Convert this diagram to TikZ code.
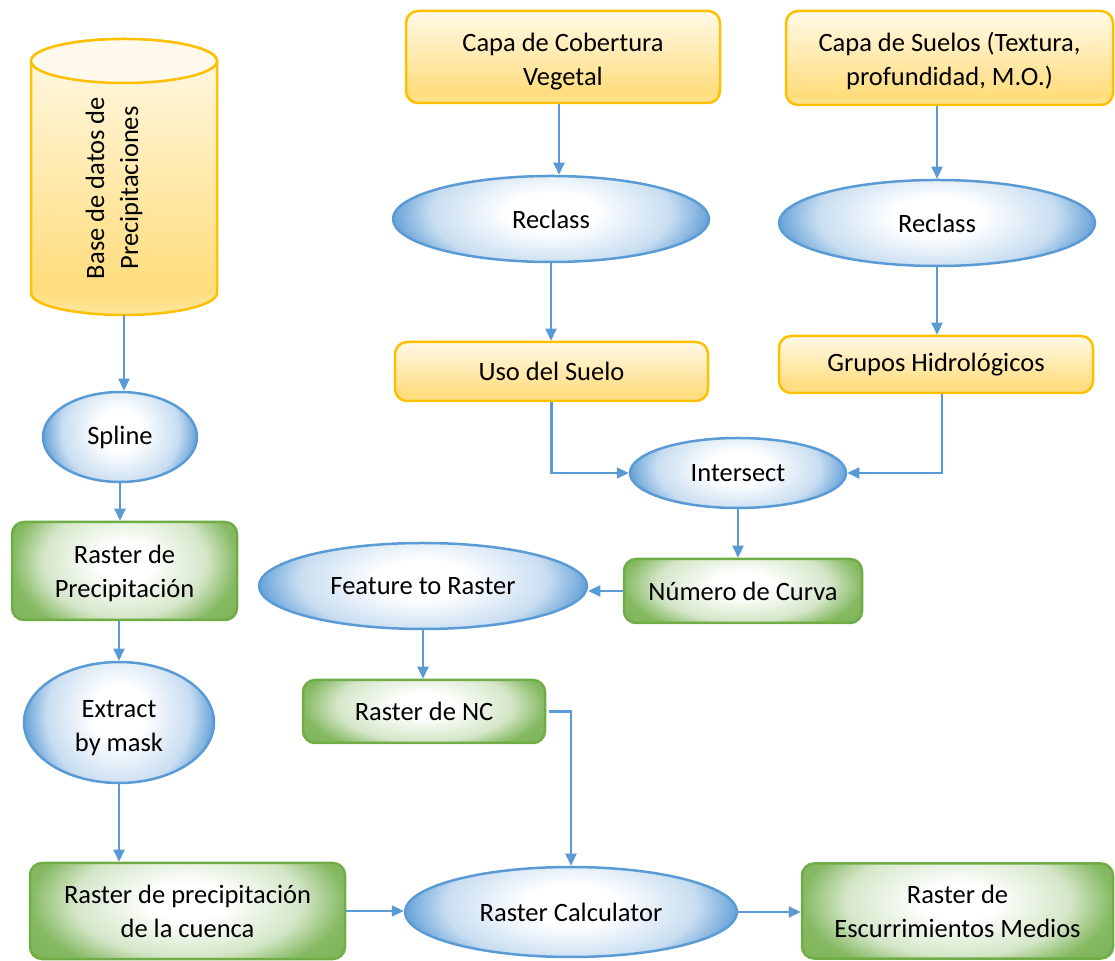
\documentclass[tikz,border=0pt]{standalone}
\usepackage{fontspec}
\setmainfont{Carlito}
\usetikzlibrary{shapes.geometric, arrows.meta, calc}
\definecolor{gold}{RGB}{255,192,0}
\definecolor{ellblue}{RGB}{91,155,213}
\definecolor{grn}{RGB}{112,173,71}
\definecolor{yelT}{RGB}{255,249,232}
\definecolor{yelB}{RGB}{255,221,125}
\definecolor{yelB2}{RGB}{255,230,155}
\definecolor{cyltop}{RGB}{255,250,236}
\pgfdeclareverticalshading{yelsh}{100bp}{color(0bp)=(yelB2); color(25bp)=(yelB2); color(30bp)=(yelB); color(75bp)=(yelT); color(100bp)=(yelT)}
\pgfdeclareradialshading{bluesh}{\pgfpoint{0bp}{0bp}}{color(0bp)=(white); color(7bp)=(white); color(19bp)=(ellblue!34); color(25bp)=(ellblue!92); color(40bp)=(ellblue)}
\pgfdeclareradialshading{grnsh}{\pgfpoint{0bp}{0bp}}{color(0bp)=(white); color(6bp)=(white); color(18bp)=(grn!30); color(25bp)=(grn!85); color(40bp)=(grn)}
\newcommand\nodefont{\fontsize{26.5pt}{34pt}\selectfont}
\newcommand\lowtext[2]{\raisebox{#1}[\height][\depth]{\begin{tabular}{@{}c@{}}#2\end{tabular}}}
\tikzset{
  base/.style={align=center, inner sep=0pt, font=\nodefont, text=black},
  yelbox/.style={base, rectangle, rounded corners=12pt, draw=gold, line width=2.5pt, shade, shading=yelsh},
  ellnode/.style={base, ellipse, draw=ellblue, line width=2.5pt,
    path picture={\shade[shading=bluesh] ($(path picture bounding box.south west)!-0.25!(path picture bounding box.north west)$) rectangle ($(path picture bounding box.north east)!-0.4!(path picture bounding box.south east)$);}},
  grnbox/.style={base, rectangle, rounded corners=12pt, draw=grn, line width=2.5pt,
    path picture={\shade[shading=grnsh] ($(path picture bounding box.south west)!-0.2!(path picture bounding box.north west)$) rectangle ($(path picture bounding box.north east)!-0.4!(path picture bounding box.south east)$);}},
  arr/.style={draw=ellblue, line width=2.2pt, -{Triangle[length=12pt,width=11pt]}}
}
\begin{document}
\begin{tikzpicture}[x=1pt,y=1pt]
\useasboundingbox (0,0) rectangle (1115,960);
% cylinder
\path[shade, shading=yelsh, draw=gold, line width=2.5pt] (31,899) -- (31,667) arc[start angle=180,end angle=360,x radius=93pt,y radius=22pt] -- (217,899) arc[start angle=0,end angle=180,x radius=93pt,y radius=22pt] -- cycle;
\draw[gold, line width=2.5pt, fill=cyltop] (124,899) ellipse [x radius=93pt, y radius=22pt];
\node[base, rotate=90] (cyltxt) at (114,772) {Base de datos de\\Precipitaciones};
\coordinate (cylb) at (124,645);
% top row
\node[yelbox, minimum width=314pt, minimum height=92pt] (cob) at (563,903) {\lowtext{-5pt}{Capa de Cobertura\\Vegetal}};
\node[yelbox, minimum width=327pt, minimum height=94pt] (suelos) at (949.5,902) {\lowtext{-4pt}{Capa de Suelos (Textura,\\profundidad, M.O.)}};
\node[ellnode, minimum width=316pt, minimum height=86pt] (rec1) at (551,741) {Reclass};
\node[ellnode, minimum width=316pt, minimum height=86pt] (rec2) at (937,737) {Reclass};
\node[yelbox, minimum width=313pt, minimum height=59pt] (uso) at (551.5,588.5) {Uso del Suelo};
\node[yelbox, minimum width=314pt, minimum height=57pt] (grupos) at (936,595.5) {Grupos Hidrológicos};
\node[ellnode, minimum width=216pt, minimum height=70pt] (inter) at (738,487) {Intersect};
\node[grnbox, minimum width=238pt, minimum height=64pt] (numero) at (743,369) {Número de Curva};
\node[ellnode, minimum width=328pt, minimum height=86pt] (feat) at (423,374) {Feature to Raster};
\node[grnbox, minimum width=242pt, minimum height=63pt] (nc) at (424,248.5) {Raster de NC};
\node[ellnode, minimum width=332pt, minimum height=90pt] (calc) at (571,48) {Raster Calculator};
% left column
\node[ellnode, minimum width=154pt, minimum height=90pt] (spline) at (120,523) {Spline};
\node[grnbox, minimum width=225pt, minimum height=98pt] (precip) at (124.5,389) {\lowtext{-3pt}{Raster de\\Precipitación}};
\node[ellnode, minimum width=190pt, minimum height=121pt] (extract) at (119,237.5) {\lowtext{-5pt}{Extract\\by mask}};
\node[grnbox, minimum width=315pt, minimum height=96pt] (cuenca) at (187.5,49) {Raster de precipitación\\de la cuenca};
\node[grnbox, minimum width=311pt, minimum height=95pt] (esc) at (957.5,49) {Raster de\\Escurrimientos Medios};
% connectors
\draw[arr] (cylb) -- (cylb |- spline.north);
\draw[arr] (spline.south) -- (spline.south |- precip.north);
\draw[arr] (extract.north |- precip.south) -- (extract.north);
\draw[arr] (extract.south) -- (extract.south |- cuenca.north);
\draw[arr] ([xshift=-4pt]cob.south) -- ([xshift=-4pt]cob.south |- rec1.north);
\draw[arr] (rec2.north |- suelos.south) -- (rec2.north);
\draw[arr] (rec1.south) -- (rec1.south |- uso.north);
\draw[arr] (rec2.south) -- (rec2.south |- grupos.north);
\draw[arr] (uso.south) |- (inter.west);
\draw[arr] ([xshift=6pt]grupos.south) |- (inter.east);
\draw[arr] (inter.south) -- (inter.south |- numero.north);
\draw[arr] (numero.west) -- (numero.west -| feat.east);
\draw[arr] (feat.south) -- (feat.south |- nc.north);
\draw[arr] ([xshift=3pt]nc.east) -| (calc.north);
\draw[arr] (cuenca.east) -- (cuenca.east -| calc.west);
\draw[arr] (calc.east) -- (calc.east -| esc.west);
\end{tikzpicture}
\end{document}
